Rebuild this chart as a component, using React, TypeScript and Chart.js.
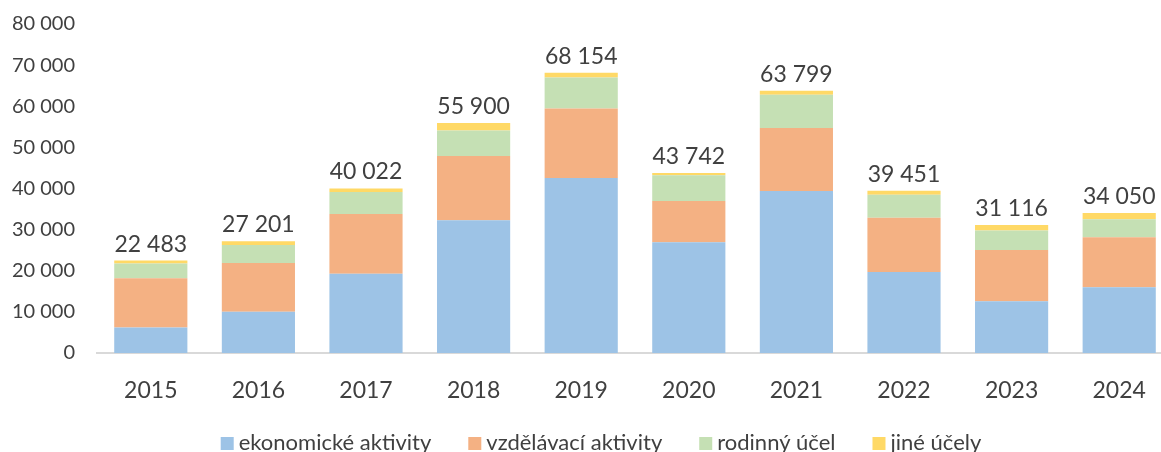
import React, { useEffect, useRef } from "react";
import { Chart, registerables } from "chart.js";

Chart.register(...registerables);

const years = ["2015", "2016", "2017", "2018", "2019", "2020", "2021", "2022", "2023", "2024"];
const economic = [6200, 10040, 19300, 32300, 42540, 26940, 39370, 19700, 12560, 15970];
const education = [11960, 11860, 14470, 15600, 16900, 10000, 15360, 13160, 12500, 12190];
const family = [3590, 4380, 5360, 6180, 7560, 6260, 8050, 5610, 4730, 4390];
const other = [733, 921, 892, 1820, 1154, 542, 1019, 981, 1326, 1500];
const totals = [22483, 27201, 40022, 55900, 68154, 43742, 63799, 39451, 31116, 34050];
const seriesNames = ["ekonomické aktivity", "vzdělávací aktivity", "rodinný účel", "jiné účely"];
const seriesColors = ["#9DC3E6", "#F4B183", "#C5E0B4", "#FFD966"];
const yTicks = [0, 10000, 20000, 30000, 40000, 50000, 60000, 70000, 80000];

const FONT = "Lato, 'Open Sans', sans-serif";
const TEXT = "#404040";

const fmt = (v: number) => String(v).replace(/\B(?=(\d{3})+(?!\d))/g, " ");

const totalsPlugin = {
  id: "totalsLabels",
  afterDatasetsDraw(chart: any) {
    const ctx = chart.ctx;
    const meta = chart.getDatasetMeta(chart.data.datasets.length - 1);
    ctx.save();
    ctx.font = `23px ${FONT}`;
    ctx.fillStyle = TEXT;
    ctx.textAlign = "center";
    ctx.textBaseline = "alphabetic";
    meta.data.forEach((bar: any, i: number) => {
      ctx.fillText(fmt(totals[i]), bar.x, bar.y - 9);
    });
    ctx.restore();
  },
};

const legendPlugin = {
  id: "customLegend",
  afterDraw(chart: any) {
    const ctx = chart.ctx;
    ctx.save();
    ctx.font = `22px ${FONT}`;
    const box = 13;
    const boxGap = 5;
    const itemGap = 37;
    const widths = seriesNames.map((n) => ctx.measureText(n).width);
    const total = widths.reduce((a, w) => a + box + boxGap + w, 0) + itemGap * (seriesNames.length - 1);
    let x = 601 - total / 2;
    const baseline = 450;
    seriesNames.forEach((n, i) => {
      ctx.fillStyle = seriesColors[i];
      ctx.fillRect(x, baseline - box, box, box);
      x += box + boxGap;
      ctx.fillStyle = TEXT;
      ctx.textAlign = "left";
      ctx.textBaseline = "alphabetic";
      ctx.fillText(n, x, baseline);
      x += widths[i] + itemGap;
    });
    ctx.restore();
  },
};

export default function App() {
  const ref = useRef<HTMLCanvasElement>(null);
  useEffect(() => {
    document.body.style.margin = "0";
    const values = [economic, education, family, other];
    const chart = new Chart(ref.current!, {
      type: "bar",
      data: {
        labels: years,
        datasets: values.map((d, i) => ({
          label: seriesNames[i],
          data: d,
          backgroundColor: seriesColors[i],
          borderWidth: 0,
          barPercentage: 0.68,
          categoryPercentage: 1,
        })),
      },
      options: {
        responsive: false,
        animation: false,
        layout: { padding: { top: 0, right: 27, bottom: 0, left: 0 } },
        plugins: { legend: { display: false }, tooltip: { enabled: false } },
        scales: {
          x: {
            stacked: true,
            grid: { display: false, drawTicks: false },
            border: { display: true, color: "#D9D9D9", width: 2 },
            ticks: { color: TEXT, font: { family: FONT, size: 23 }, padding: 24 },
            afterFit: (s: any) => { s.height = 99; },
          },
          y: {
            stacked: true,
            min: 0,
            max: 80000,
            afterBuildTicks: (s: any) => { s.ticks = yTicks.map((v) => ({ value: v })); },
            grid: { display: false, drawTicks: false },
            border: { display: false },
            ticks: { color: TEXT, font: { family: FONT, size: 20 }, padding: 22, callback: (v: any) => fmt(Number(v)) },
            afterFit: (s: any) => { s.width = 97; s.paddingTop = 24; s.paddingBottom = 0; },
          },
        },
      },
      plugins: [totalsPlugin, legendPlugin],
    });
    return () => chart.destroy();
  }, []);
  return (
    <div style={{ width: 1161, height: 452, overflow: "hidden", position: "relative" }}>
      <canvas ref={ref} width={1200} height={452} style={{ display: "block" }} />
    </div>
  );
}
